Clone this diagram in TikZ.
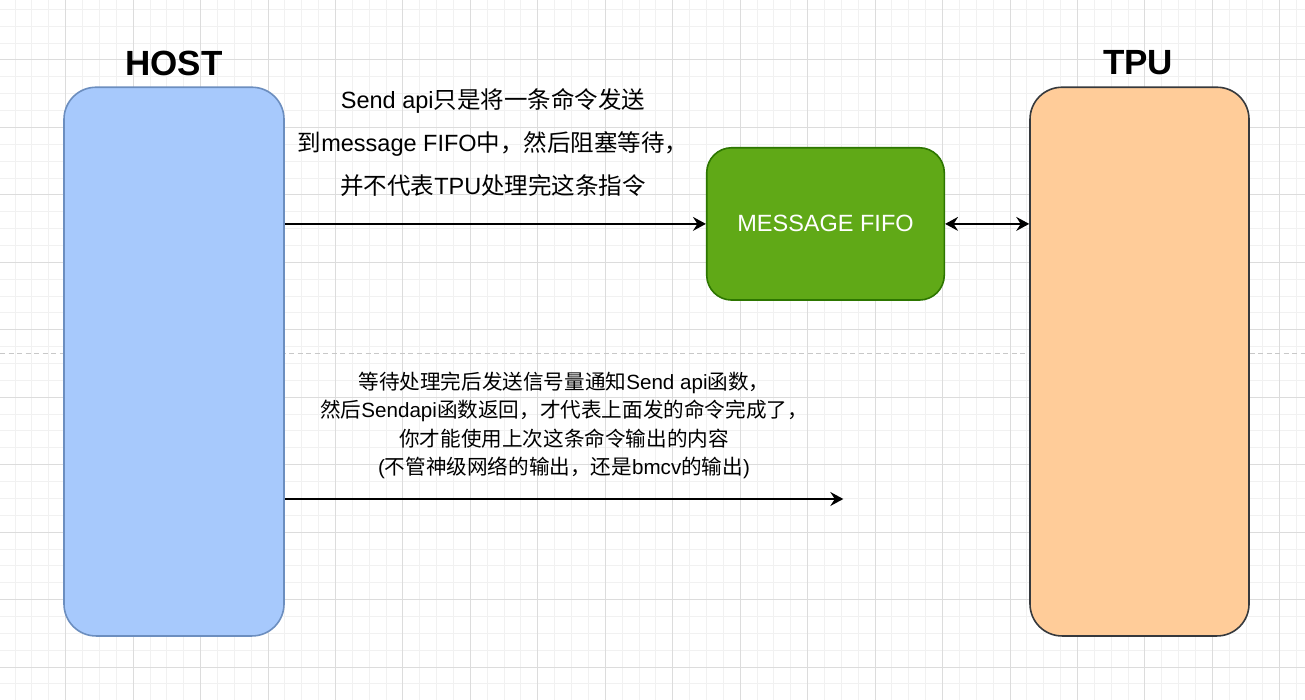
\documentclass[tikz,border=0pt]{standalone}
\usepackage{fontspec}
\setmainfont{Liberation Sans}
\newfontfamily\cjk{Noto Sans CJK SC}
\newcommand\zh[1]{{\cjk #1}}
\usetikzlibrary{arrows.meta}
\definecolor{hostfill}{RGB}{167,201,252}
\definecolor{hoststroke}{RGB}{108,142,191}
\definecolor{tpufill}{RGB}{255,204,153}
\definecolor{tpustroke}{RGB}{54,57,61}
\definecolor{fifofill}{RGB}{96,169,23}
\definecolor{fifostroke}{RGB}{45,118,0}
\definecolor{gridminor}{RGB}{241,241,241}
\definecolor{gridmajor}{RGB}{220,220,220}
\definecolor{sepgray}{RGB}{200,200,200}
\tikzset{
  box/.style={rectangle, rounded corners=32pt, line width=1.6pt, inner sep=0pt},
  arr/.style={line width=1.7pt, -{Stealth[length=13pt,width=14pt,inset=4.5pt]}},
  darr/.style={line width=1.7pt, {Stealth[length=13pt,width=14pt,inset=4.5pt]}-{Stealth[length=13pt,width=14pt,inset=4.5pt]}},
  title/.style={font=\bfseries\fontsize{35}{40}\selectfont},
  note/.style={align=center, inner sep=0pt}
}
\begin{document}
\begin{tikzpicture}[x=1pt,y=-1pt]
\useasboundingbox (0,0) rectangle (1305,700);
\fill[white] (0,0) rectangle (1305,700);
% grid
\foreach \i in {0,...,80} {
  \draw[gridminor, line width=1pt] ({-1.75+16.8625*\i},0) -- ({-1.75+16.8625*\i},700);
}
\foreach \i in {0,...,43} {
  \draw[gridminor, line width=1pt] (0,{-7.45+16.8625*\i}) -- (1305,{-7.45+16.8625*\i});
}
\foreach \i in {0,...,20} {
  \draw[gridmajor, line width=1pt] ({-1.75+67.45*\i},0) -- ({-1.75+67.45*\i},700);
}
\foreach \i in {0,...,11} {
  \draw[gridmajor, line width=1pt] (0,{-7.45+67.45*\i}) -- (1305,{-7.45+67.45*\i});
}
% separator
\coordinate (sepL) at (0,353.3);
\coordinate (sepR) at (1305,353.3);
\draw[sepgray, line width=1.5pt, dash pattern=on 5pt off 3.5pt] (sepL) -- (sepR);
% boxes
\node[box, draw=hoststroke, fill=hostfill, minimum width=220pt, minimum height=548.7pt] (host) at (174,361.6) {};
\node[box, draw=tpustroke, fill=tpufill, minimum width=219pt, minimum height=548.7pt] (tpu) at (1139.5,361.6) {};
\node[box, rounded corners=25pt, draw=fifostroke, fill=fifofill, minimum width=237.6pt, minimum height=152.3pt, text=white, font=\fontsize{23.5}{28}\selectfont] (fifo) at (825.5,223.9) {MESSAGE FIFO};
% titles
\node[title] (hostlbl) at (174,63) {HOST};
\node[title] (tpulbl) at (1138,63) {TPU};
% notes
\node[note, font=\fontsize{23.5}{43}\selectfont] (note1) at (493,143) {Send api\zh{只是将一条命令发送}\\\zh{到}message FIFO\zh{中，然后阻塞等待，}\\\zh{并不代表}TPU\zh{处理完这条指令}};
\node[note, font=\fontsize{20.6}{28.3}\selectfont] (note2) at (564,425.5) {\zh{等待处理完后发送信号量通知}Send api\zh{函数，}\\\zh{然后}Sendapi\zh{函数返回，才代表上面发的命令完成了，}\\\zh{你才能使用上次这条命令输出的内容}\\(\zh{不管神级网络的输出，还是}bmcv\zh{的输出})};
% connectors
\draw[arr] (fifo.west -| host.east) -- (fifo.west);
\draw[darr] (fifo.east) -- (fifo.east -| tpu.west);
\coordinate (retend) at (843.3,499);
\draw[arr] (retend -| host.east) -- (retend);
\end{tikzpicture}
\end{document}
